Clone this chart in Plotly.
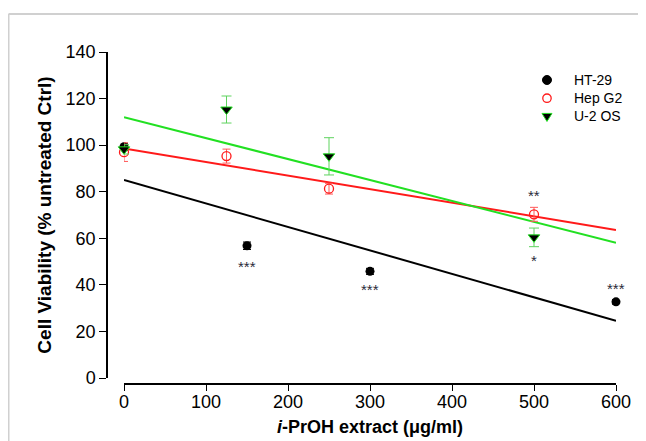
import plotly.graph_objects as go

# ---- data ----
ht29_x = [0, 150, 300, 600]
ht29_y = [99.3, 56.8, 45.8, 32.7]
ht29_err = [1.5, 1.6, 1.3, 1.0]

hep_x = [0, 125, 250, 500]
hep_y = [97.0, 95.3, 81.3, 70.3]
hep_err = [4.0, 3.0, 2.3, 3.0]

u2_x = [0, 125, 250, 500]
u2_y = [98.2, 115.3, 95.2, 60.4]
u2_err = [2.0, 5.8, 8.0, 4.0]

# fitted regression lines (end points)
fit_x = [0, 600]
ht29_fit = [85.0, 24.6]
hep_fit = [98.6, 63.6]
u2_fit = [112.0, 58.1]

# significance marks
sig_x = [150, 300, 600, 500, 500]
sig_y = [49.5, 39.6, 40.3, 80.3, 52.3]
sig_txt = ["***", "***", "***", "**", "*"]

x_ticks = [0, 100, 200, 300, 400, 500, 600]
y_ticks = [0, 20, 40, 60, 80, 100, 120, 140]

series_names = ["HT-29", "Hep G2", "U-2 OS"]

FONT = "Arial, Liberation Sans, sans-serif"
RED = "#ff1a1a"
GREEN = "#22e022"

fig = go.Figure()

fig.add_trace(go.Scatter(x=fit_x, y=ht29_fit, mode="lines", line=dict(color="black", width=2),
                         showlegend=False, hoverinfo="skip", cliponaxis=False))
fig.add_trace(go.Scatter(x=fit_x, y=hep_fit, mode="lines", line=dict(color=RED, width=2),
                         showlegend=False, hoverinfo="skip", cliponaxis=False))
fig.add_trace(go.Scatter(x=fit_x, y=u2_fit, mode="lines", line=dict(color=GREEN, width=2),
                         showlegend=False, hoverinfo="skip", cliponaxis=False))

fig.add_trace(go.Scatter(
    x=ht29_x, y=ht29_y, mode="markers", name=series_names[0], cliponaxis=False, showlegend=False,
    marker=dict(symbol="circle", size=9, color="black"),
    error_y=dict(type="data", array=ht29_err, color="black", thickness=1, width=4)))
fig.add_trace(go.Scatter(
    x=hep_x, y=hep_y, mode="markers", name=series_names[1], cliponaxis=False, showlegend=False,
    marker=dict(symbol="circle-open", size=9, color=RED, line=dict(width=1.3, color=RED)),
    error_y=dict(type="data", array=hep_err, color="#ff5a5a", thickness=1, width=4)))
fig.add_trace(go.Scatter(
    x=u2_x, y=u2_y, mode="markers", name=series_names[2], cliponaxis=False, showlegend=False,
    marker=dict(symbol="triangle-down", size=10, color="black", line=dict(width=1, color=GREEN)),
    error_y=dict(type="data", array=u2_err, color="#5fd35f", thickness=1, width=5)))

for sx, sy, st in zip(sig_x, sig_y, sig_txt):
    fig.add_annotation(x=sx, y=sy, text=st, showarrow=False, xref="x", yref="y",
                       font=dict(family=FONT, size=15, color="#2a2a3a"), yshift=-4)

# ---- legend drawn by hand (tight row spacing of the original) ----
leg_mx = 0.8644
leg_tx = 0.9136
leg_rows = [0.9157, 0.8608, 0.8060]
# HT-29: filled black circle
fig.add_shape(type="circle", xref="paper", yref="paper", xsizemode="pixel", ysizemode="pixel",
              xanchor=leg_mx, yanchor=leg_rows[0], x0=-4.5, x1=4.5, y0=-4.5, y1=4.5,
              fillcolor="black", line=dict(color="black", width=1))
# Hep G2: open red circle
fig.add_shape(type="circle", xref="paper", yref="paper", xsizemode="pixel", ysizemode="pixel",
              xanchor=leg_mx, yanchor=leg_rows[1], x0=-4.2, x1=4.2, y0=-4.2, y1=4.2,
              fillcolor="white", line=dict(color=RED, width=1.3))
# U-2 OS: black down triangle with green edge
fig.add_shape(type="path", xref="paper", yref="paper", xsizemode="pixel", ysizemode="pixel",
              xanchor=leg_mx, yanchor=leg_rows[2], path="M -5 3 L 5 3 L 0 -5 Z",
              fillcolor="black", line=dict(color=GREEN, width=1))
fig.add_annotation(x=leg_tx, y=leg_rows[1], xref="paper", yref="paper",
                   text="<br>".join(series_names), showarrow=False, align="left",
                   xanchor="left", yanchor="middle", font=dict(family=FONT, size=14, color="black"))

# light frame around the figure
fig.add_shape(type="line", xref="paper", yref="paper", x0=-0.1935, x1=1.1, y0=1.1145, y1=1.1145,
              line=dict(color="#d0d0d0", width=2))
fig.add_shape(type="line", xref="paper", yref="paper", x0=-0.1935, x1=-0.1935, y0=1.1145, y1=-0.3,
              line=dict(color="#d0d0d0", width=2))

fig.update_layout(
    width=638, height=433,
    margin=dict(l=99, r=30, t=44, b=57),
    paper_bgcolor="white", plot_bgcolor="white",
    font=dict(family=FONT, size=18, color="black"),
    showlegend=False,
    xaxis=dict(domain=[0.0334, 1], range=[0, 600], anchor="free", position=0, automargin=False,
               tickvals=x_ticks, ticks="outside", ticklen=6, tickwidth=1.3, tickcolor="black",
               showline=True, linecolor="black", linewidth=1.5, showgrid=False, zeroline=False,
               tickfont=dict(size=18), ticklabelstandoff=-4,
               title=dict(text="<b><i>i</i>-PrOH extract (μg/ml)</b>", font=dict(size=18), standoff=8)),
    yaxis=dict(domain=[0.018, 1], range=[0, 140], anchor="free", position=0, automargin=False,
               tickvals=y_ticks, ticks="outside", ticklen=7, tickwidth=1.3, tickcolor="black",
               showline=True, linecolor="black", linewidth=1.5, showgrid=False, zeroline=False,
               tickfont=dict(size=18),
               title=dict(text="<b>Cell Viability (% untreated Ctrl)</b>", font=dict(size=19), standoff=8)),
)

fig.write_html("out.html")
